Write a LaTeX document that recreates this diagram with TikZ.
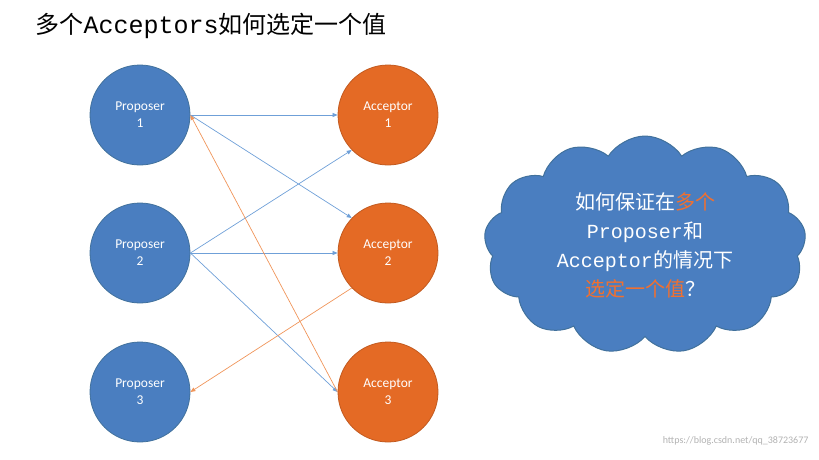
\documentclass[tikz,border=0pt]{standalone}
\usepackage{fontspec}
\setmainfont{Carlito}
\newfontfamily\cjk{Noto Sans CJK SC}
\newfontfamily\lmono{Liberation Mono}
\usetikzlibrary{shapes.symbols,arrows.meta}
\definecolor{pblue}{HTML}{4A7EC0}
\definecolor{pborder}{HTML}{41719C}
\definecolor{aor}{HTML}{E46A25}
\definecolor{lblue}{HTML}{6FA0D8}
\definecolor{lor}{HTML}{F0955A}
\definecolor{txtor}{HTML}{F07030}
\begin{document}
\begin{tikzpicture}[x=1pt,y=-1pt,
 prop/.style={circle,minimum size=100pt,fill=pblue,draw=pborder,line width=0.8pt,text=white,font=\fontsize{13.5}{17}\selectfont,align=center,inner sep=0pt},
 acc/.style={prop,fill=aor,draw=aor!85!black},
 bl/.style={draw=lblue,line width=0.7pt,-{Triangle[length=5pt,width=4pt]}},
 orl/.style={draw=lor,line width=0.7pt,-{Triangle[length=5pt,width=4pt]}}]
\useasboundingbox (0,0) rectangle (819,459);
\node[anchor=west,font=\cjk\fontsize{24}{26}\selectfont] (title) at (32,26) {多个{\lmono\fontsize{25}{26}\selectfont Acceptors}如何选定一个值};
\node[prop] (p1) at (140,115) {Proposer\\1};
\node[prop] (p2) at (140,253) {Proposer\\2};
\node[prop] (p3) at (140,392) {Proposer\\3};
\node[acc] (a1) at (388,115) {Acceptor\\1};
\node[acc] (a2) at (388,253) {Acceptor\\2};
\node[acc] (a3) at (388,392) {Acceptor\\3};
\draw[bl] (p1.east) -- (a1.west);
\draw[bl] (p1.east) -- (a2.136);
\draw[bl] (p2.east) -- (a1.224);
\draw[bl] (p2.east) -- (a2.west);
\draw[bl] (p2.east) -- (a3.west);
\draw[orl] (a3.west) -- (p1.east);
\draw[orl] (a2.224) -- (p3.east);
\node[cloud,cloud puffs=13,cloud puff arc=115,aspect=1.45,fill=pblue,draw=pborder,line width=1pt,minimum width=322pt,minimum height=218pt,text=white,align=center,font=\cjk\fontsize{20}{29}\selectfont] (cloud) at (645,245)
 {如何保证在\textcolor{txtor}{多个}\\{\lmono Proposer}和\\{\lmono Acceptor}的情况下\\\textcolor{txtor}{选定一个值}？};
\node[anchor=east,text=gray!60,font=\fontsize{10}{12}\selectfont] (wm) at (812,441) {https://blog.csdn.net/qq\_38723677};
\end{tikzpicture}
\end{document}
